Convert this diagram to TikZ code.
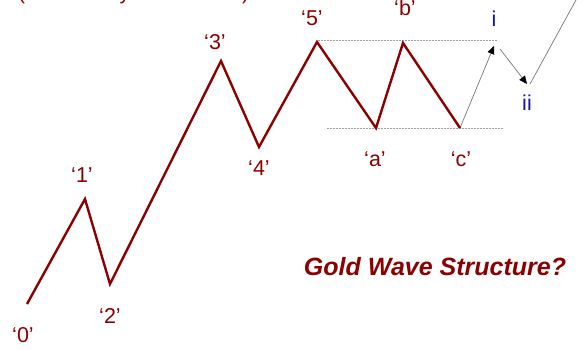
\documentclass[tikz,border=0pt]{standalone}
\usepackage{fontspec}
\setmainfont{Liberation Sans}
\usetikzlibrary{arrows.meta}
\definecolor{wavered}{RGB}{139,0,0}
\definecolor{subblue}{RGB}{20,20,160}
\definecolor{guidegray}{RGB}{160,160,160}
\definecolor{arrowgray}{RGB}{120,120,120}
\begin{document}
\begin{tikzpicture}[x=1pt,y=-1pt,
  wave/.style={draw=wavered,line width=2.4pt,line join=miter},
  wlabel/.style={text=wavered,font=\fontsize{21.5}{21.5}\selectfont,inner sep=0pt},
  blabel/.style={text=subblue,font=\fontsize{21.5}{21.5}\selectfont,inner sep=0pt},
  guide/.style={draw=guidegray,line width=0.9pt,dash pattern=on 2pt off 1pt},
  subarrow/.style={draw=arrowgray,line width=0.7pt,-{Triangle[length=8pt,width=7pt,color=black]}},
  subline/.style={draw=arrowgray,line width=0.7pt}]
\useasboundingbox (0,0) rectangle (587,349);
% wave points
\coordinate (w0) at (27,304);
\coordinate (w1) at (85,199);
\coordinate (w2) at (110,284);
\coordinate (w3) at (221,61);
\coordinate (w4) at (259,147);
\coordinate (w5) at (317,42);
\coordinate (wa) at (376,128);
\coordinate (wb) at (403,43);
\coordinate (wc) at (460,128);
% guides
\coordinate (gt1) at (318,40);
\coordinate (gt2) at (497,40);
\coordinate (gb1) at (327,128);
\coordinate (gb2) at (503,128);
\draw[guide] (gt1) -- (gt2);
\draw[guide] (gb1) -- (gb2);
% sub waves
\coordinate (si) at (494,46);
\coordinate (sis) at (500,49);
\coordinate (sii) at (527,84);
\coordinate (siis) at (530,84);
\coordinate (top) at (576,0);
\draw[subarrow] (wc) -- (si);
\draw[subarrow] (sis) -- (sii);
\draw[subline] (siis) -- (top);
% main wave
\draw[wave] (w0) -- (w1) -- (w2) -- (w3) -- (w4) -- (w5) -- (wa) -- (wb) -- (wc);
% labels
\node[wlabel] (l0) at (23,335) {‘0’};
\node[wlabel] (l1) at (82,175) {‘1’};
\node[wlabel] (l2) at (110,316) {‘2’};
\node[wlabel] (l3) at (215,42) {‘3’};
\node[wlabel] (l4) at (259,168) {‘4’};
\node[wlabel] (l5) at (312,18) {‘5’};
\node[wlabel] (la) at (375,159) {‘a’};
\node[wlabel] (lb) at (405,8) {‘b’};
\node[wlabel] (lc) at (461,159) {‘c’};
\node[blabel] (li) at (494,19) {i};
\node[blabel] (lii) at (527,103) {ii};
\node[text=wavered,font=\fontsize{25}{25}\selectfont\bfseries\itshape,inner sep=0pt] (title) at (435,267) {Gold Wave Structure?};
\node[text=wavered,font=\fontsize{21}{21}\selectfont,inner sep=0pt,anchor=base west] (head) at (18,-1) {(Preliminary wave count)};
\end{tikzpicture}
\end{document}
